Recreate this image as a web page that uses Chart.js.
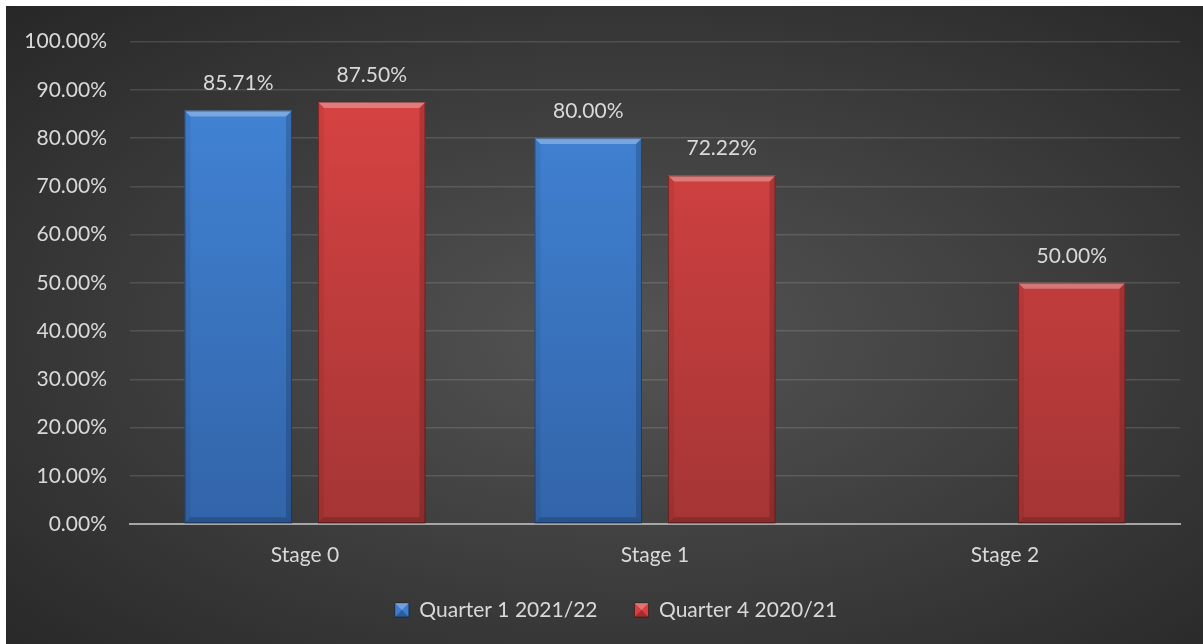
<!DOCTYPE html>
<html>
<head>
<meta charset="utf-8">
<script src="https://cdn.jsdelivr.net/npm/chart.js@4/dist/chart.umd.min.js"></script>
<style>
  html, body { margin: 0; padding: 0; background: #ffffff; }
  #frame {
    position: absolute; left: 6px; top: 6px; width: 1197px; height: 638px;
    background: radial-gradient(ellipse farthest-corner at 52% 52%, #545454 0%, #404040 45%, #272727 100%);
  }
  canvas { display: block; }
</style>
</head>
<body>
<div id="frame"><canvas id="chart"></canvas></div>
<script>
// Chart data
const categories = ['Stage 0', 'Stage 1', 'Stage 2'];
const seriesNames = ['Quarter 1 2021/22', 'Quarter 4 2020/21'];
const quarter1Values = [85.71, 80.00, null];
const quarter4Values = [87.50, 72.22, 50.00];
const yTickValues = [0, 10, 20, 30, 40, 50, 60, 70, 80, 90, 100];

const FONT = 'Lato, "Open Sans", sans-serif';
const TEXT = '#d9d9d9';

const palettes = [
  { solid: '#3d7cce', top: '#4387da', bottom: '#3264a9' },
  { solid: '#d64141', top: '#dd4444', bottom: '#a53535' }
];

function faceFill(idx) {
  return (c) => {
    const area = c.chart.chartArea;
    if (!area) return palettes[idx].solid;
    const g = c.chart.ctx.createLinearGradient(0, area.top, 0, area.bottom);
    g.addColorStop(0, palettes[idx].top);
    g.addColorStop(1, palettes[idx].bottom);
    return g;
  };
}

function pct(v) { return v.toFixed(2) + '%'; }

// Bevelled edges on each bar, drawn from the bar elements' own geometry
function bevel(ctx, l, t, r, b, s) {
  const poly = (pts, fill) => {
    ctx.beginPath();
    ctx.moveTo(pts[0][0], pts[0][1]);
    for (let i = 1; i < pts.length; i++) ctx.lineTo(pts[i][0], pts[i][1]);
    ctx.closePath();
    ctx.fillStyle = fill;
    ctx.fill();
  };
  poly([[l, t], [r, t], [r - s, t + s], [l + s, t + s]], 'rgba(255,255,255,0.3)');
  poly([[l, t], [l + s, t + s], [l + s, b - s], [l, b]], 'rgba(0,0,0,0.06)');
  poly([[r, t], [r, b], [r - s, b - s], [r - s, t + s]], 'rgba(0,0,0,0.16)');
  poly([[l, b], [l + s, b - s], [r - s, b - s], [r, b]], 'rgba(0,0,0,0.18)');
  ctx.strokeStyle = 'rgba(0,0,0,0.35)';
  ctx.lineWidth = 1;
  ctx.strokeRect(l + 0.5, t + 0.5, r - l - 1, b - t - 1);
}

const barDecor = {
  id: 'barDecor',
  afterLayout(chart) {
    // nudge the legend row into place under the axis labels
    const lg = chart.legend;
    if (!lg) return;
    lg.top -= 9.5; lg.bottom -= 9.5;
    lg.left += 23; lg.right += 23;
  },
  afterDatasetsDraw(chart) {
    const ctx = chart.ctx;
    ctx.save();
    chart.data.datasets.forEach((ds, di) => {
      const meta = chart.getDatasetMeta(di);
      meta.data.forEach((el, i) => {
        const v = ds.data[i];
        if (v === null || v === undefined) return;
        const p = el.getProps(['x', 'y', 'base', 'width'], true);
        const l = p.x - p.width / 2, r = p.x + p.width / 2;
        bevel(ctx, l, p.y, r, p.base, 6);
        ctx.fillStyle = TEXT;
        ctx.font = '21px ' + FONT;
        ctx.textAlign = 'center';
        ctx.textBaseline = 'middle';
        ctx.fillText(pct(v), p.x, p.y - 27);
      });
    });
    ctx.restore();
  },
  afterDraw(chart) {
    const lg = chart.legend;
    if (!lg || !lg.legendHitBoxes) return;
    const ctx = chart.ctx;
    const o = lg.options.labels;
    const fs = 21;
    ctx.save();
    lg.legendHitBoxes.forEach((h) => {
      const x = h.left, y = h.top + Math.max((fs - o.boxHeight) / 2, 0);
      const w = o.boxWidth, hh = o.boxHeight;
      ctx.fillStyle = 'rgba(255,255,255,0.28)';
      ctx.beginPath();
      ctx.moveTo(x, y); ctx.lineTo(x + w, y); ctx.lineTo(x + w / 2, y + hh / 2); ctx.closePath();
      ctx.fill();
      ctx.fillStyle = 'rgba(0,0,0,0.25)';
      ctx.beginPath();
      ctx.moveTo(x, y + hh); ctx.lineTo(x + w, y + hh); ctx.lineTo(x + w / 2, y + hh / 2); ctx.closePath();
      ctx.fill();
    });
    ctx.restore();
  }
};

new Chart(document.getElementById('chart'), {
  type: 'bar',
  data: {
    labels: categories,
    datasets: [
      { label: seriesNames[0], data: quarter1Values, backgroundColor: faceFill(0), borderWidth: 0 },
      { label: seriesNames[1], data: quarter4Values, backgroundColor: faceFill(1), borderWidth: 0 }
    ]
  },
  options: {
    responsive: true,
    maintainAspectRatio: false,
    animation: false,
    devicePixelRatio: 1,
    datasets: { bar: { categoryPercentage: 0.763, barPercentage: 0.805 } },
    layout: { padding: { left: 0, right: 23, top: 30, bottom: 4 } },
    plugins: {
      tooltip: { enabled: false },
      legend: {
        position: 'bottom',
        labels: {
          color: TEXT,
          font: { family: FONT, size: 21 },
          boxWidth: 14,
          boxHeight: 14,
          padding: 37,
          generateLabels: (chart) => chart.data.datasets.map((ds, i) => ({
            text: ds.label,
            fillStyle: palettes[i].solid,
            strokeStyle: 'rgba(0,0,0,0.4)',
            lineWidth: 1,
            fontColor: TEXT,
            hidden: false,
            datasetIndex: i
          }))
        }
      }
    },
    scales: {
      x: {
        grid: { display: false, drawTicks: false },
        border: { display: true, color: '#a6a6a6', width: 2 },
        ticks: { color: TEXT, font: { family: FONT, size: 21 }, padding: 19 },
        afterFit: (s) => { s.height = 48; }
      },
      y: {
        min: 0,
        max: 100,
        afterBuildTicks: (s) => { s.ticks = yTickValues.map(v => ({ value: v })); },
        grid: {
          color: (c) => c.tick && c.tick.value === 0 ? 'rgba(0,0,0,0)' : 'rgba(255,255,255,0.13)',
          lineWidth: 1.5,
          drawTicks: false
        },
        border: { display: false },
        ticks: {
          color: TEXT,
          font: { family: FONT, size: 21 },
          padding: 23,
          callback: (v) => pct(v)
        },
        afterFit: (s) => { s.width = 124; }
      }
    }
  },
  plugins: [barDecor]
});
</script>
</body>
</html>
